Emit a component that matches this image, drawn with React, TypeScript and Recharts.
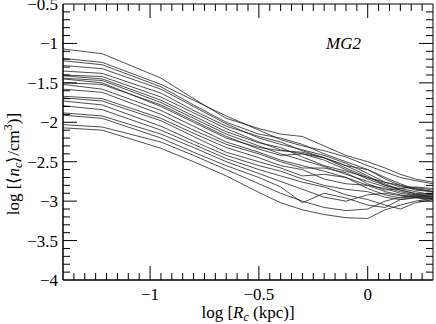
import React from 'react';
import { LineChart, Line, XAxis, YAxis, ReferenceArea, Label } from 'recharts';

// log R_c sample positions (kpc, log10)
const radiusLog = [-1.4, -1.22, -0.95, -0.8, -0.65, -0.5, -0.4, -0.3, -0.2, -0.1, 0, 0.08, 0.15, 0.22, 0.3];

// log <n_c>/cm^3 profiles, one per cloud
const profile01 = [-1.07, -1.13, -1.44, -1.70, -1.95, -2.08, -2.15, -2.18, -2.30, -2.42, -2.50, -2.58, -2.66, -2.72, -2.76];
const profile02 = [-1.19, -1.24, -1.52, -1.72, -1.92, -2.10, -2.22, -2.30, -2.36, -2.44, -2.55, -2.63, -2.70, -2.74, -2.78];
const profile03 = [-1.22, -1.27, -1.55, -1.78, -2.00, -2.15, -2.20, -2.28, -2.40, -2.50, -2.60, -2.72, -2.80, -2.83, -2.86];
const profile04 = [-1.28, -1.32, -1.58, -1.80, -2.02, -2.20, -2.28, -2.35, -2.42, -2.52, -2.65, -2.76, -2.82, -2.84, -2.88];
const profile05 = [-1.35, -1.38, -1.63, -1.85, -2.05, -2.18, -2.25, -2.36, -2.45, -2.55, -2.68, -2.80, -2.86, -2.90, -2.92];
const profile06 = [-1.40, -1.42, -1.68, -1.88, -2.08, -2.25, -2.35, -2.40, -2.45, -2.55, -2.60, -2.70, -2.78, -2.85, -2.88];
const profile07 = [-1.41, -1.45, -1.72, -1.92, -2.12, -2.26, -2.32, -2.44, -2.55, -2.62, -2.70, -2.78, -2.86, -2.91, -2.95];
const profile08 = [-1.44, -1.47, -1.75, -1.95, -2.15, -2.30, -2.40, -2.48, -2.56, -2.66, -2.75, -2.82, -2.88, -2.92, -2.94];
const profile09 = [-1.50, -1.52, -1.78, -1.98, -2.18, -2.34, -2.42, -2.40, -2.48, -2.60, -2.72, -2.80, -2.84, -2.88, -2.92];
const profile10 = [-1.52, -1.58, -1.85, -2.05, -2.25, -2.38, -2.48, -2.55, -2.62, -2.70, -2.80, -2.88, -2.92, -2.95, -2.97];
const profile11 = [-1.58, -1.62, -1.90, -2.10, -2.28, -2.40, -2.50, -2.58, -2.58, -2.64, -2.78, -2.86, -2.84, -2.82, -2.84];
const profile12 = [-1.67, -1.70, -1.95, -2.14, -2.32, -2.45, -2.55, -2.60, -2.72, -2.78, -2.80, -2.84, -2.90, -2.93, -2.95];
const profile13 = [-1.69, -1.73, -1.98, -2.18, -2.38, -2.50, -2.58, -2.68, -2.66, -2.70, -2.84, -2.92, -2.96, -2.94, -2.96];
const profile14 = [-1.73, -1.78, -2.05, -2.24, -2.42, -2.55, -2.62, -2.72, -2.80, -2.85, -2.88, -2.95, -2.98, -2.96, -2.98];
const profile15 = [-1.79, -1.84, -2.10, -2.28, -2.46, -2.60, -2.68, -2.76, -2.82, -2.92, -2.98, -3.05, -3.10, -3.02, -2.98];
const profile16 = [-1.88, -1.92, -2.15, -2.32, -2.50, -2.65, -2.75, -2.85, -2.95, -3.00, -2.92, -2.90, -2.93, -2.95, -2.97];
const profile17 = [-1.91, -1.95, -2.20, -2.38, -2.55, -2.70, -2.82, -3.02, -2.90, -2.96, -3.05, -3.08, -2.98, -2.95, -2.92];
const profile18 = [-2.03, -2.06, -2.25, -2.42, -2.60, -2.78, -2.90, -3.00, -3.08, -3.12, -3.10, -3.00, -2.95, -2.92, -2.90];
const profile19 = [-2.07, -2.10, -2.33, -2.50, -2.68, -2.89, -3.02, -3.11, -3.17, -3.21, -3.22, -3.11, -3.05, -3.00, -2.96];
const profile20 = [-1.45, -1.50, -1.80, -2.00, -2.20, -2.32, -2.36, -2.38, -2.45, -2.58, -2.70, -2.76, -2.80, -2.86, -2.88];

const profiles = [
  profile01, profile02, profile03, profile04, profile05, profile06, profile07, profile08, profile09, profile10,
  profile11, profile12, profile13, profile14, profile15, profile16, profile17, profile18, profile19, profile20,
];

const xDomain = [-1.4, 0.3];
const yDomain = [-4, -0.5];
const xMajorTicks = [-1, -0.5, 0];
const yMajorTicks = [-4, -3.5, -3, -2.5, -2, -1.5, -1, -0.5];
const xMinorStep = 0.05;
const yMinorStep = 0.1;
const panelLabel = 'MG2';

const round = (v: number) => Math.round(v * 1000) / 1000;
const makeTicks = (lo: number, hi: number, step: number) => {
  const out: number[] = [];
  const n = Math.round((hi - lo) / step);
  for (let i = 0; i <= n; i++) out.push(round(lo + i * step));
  return out;
};
const xTicks = makeTicks(xDomain[0], xDomain[1], xMinorStep);
const yTicks = makeTicks(yDomain[0], yDomain[1], yMinorStep);
const isMajor = (v: number, list: number[]) => list.some((m) => Math.abs(m - v) < 1e-6);

const rows = radiusLog.map((x, i) => {
  const row: Record<string, number> = { x };
  profiles.forEach((p, j) => {
    row['p' + j] = p[i];
  });
  return row;
});

const W = 436;
const H = 324;
const margin = { top: 4, right: 3, left: 8, bottom: 14 };
const yAxisWidth = 55;
const xAxisHeight = 30;
const plotW = W - margin.left - margin.right - yAxisWidth;
const plotH = H - margin.top - margin.bottom - xAxisHeight;
const FONT = "'Liberation Serif', 'Times New Roman', serif";
const fmt = (v: number) => (v < 0 ? '\u2212' + String(Math.abs(v)) : String(v));

const XTick = (props: any) => {
  const { x, y, payload } = props;
  const v = payload.value;
  const major = isMajor(v, xMajorTicks);
  const len = major ? 14 : 7;
  const inside = v > xDomain[0] + 1e-6 && v < xDomain[1] - 1e-6;
  return (
    <g>
      {inside && <line x1={x} y1={y} x2={x} y2={y - len} stroke="#000" strokeWidth={1} />}
      {inside && <line x1={x} y1={y - plotH} x2={x} y2={y - plotH + len} stroke="#000" strokeWidth={1} />}
      {major && (
        <text x={x} y={y + 20} textAnchor="middle" fontFamily={FONT} fontSize={17} fill="#000">
          {fmt(v)}
        </text>
      )}
    </g>
  );
};

const YTick = (props: any) => {
  const { x, y, payload } = props;
  const v = payload.value;
  const major = isMajor(v, yMajorTicks);
  const len = major ? 14 : 7;
  const inside = v > yDomain[0] + 1e-6 && v < yDomain[1] - 1e-6;
  return (
    <g>
      {inside && <line x1={x} y1={y} x2={x + len} y2={y} stroke="#000" strokeWidth={1} />}
      {inside && <line x1={x + plotW} y1={y} x2={x + plotW - len} y2={y} stroke="#000" strokeWidth={1} />}
      {major && (
        <text x={x - 5} y={y + 6} textAnchor="end" fontFamily={FONT} fontSize={17} fill="#000">
          {fmt(v)}
        </text>
      )}
    </g>
  );
};

const XTitle = (props: any) => {
  const vb = props.viewBox || { x: 63, y: 280, width: plotW, height: xAxisHeight };
  const cx = vb.x + vb.width / 2;
  return (
    <text x={cx} y={vb.y + 38} textAnchor="middle" fontFamily={FONT} fontSize={17} fill="#000">
      log [<tspan fontStyle="italic">R</tspan>
      <tspan fontStyle="italic" fontSize={12} dy={3}>c</tspan>
      <tspan dy={-3}> (kpc)]</tspan>
    </text>
  );
};

const YTitle = (props: any) => {
  const vb = props.viewBox || { x: 8, y: 4, width: yAxisWidth, height: plotH };
  const cx = 19;
  const cy = vb.y + vb.height / 2 + 22;
  return (
    <text
      x={cx}
      y={cy}
      transform={`rotate(-90 ${cx} ${cy})`}
      textAnchor="middle"
      fontFamily={FONT}
      fontSize={17}
      fill="#000"
    >
      log [⟨<tspan fontStyle="italic">n</tspan>
      <tspan fontStyle="italic" fontSize={12} dy={3}>c</tspan>
      <tspan dy={-3}>⟩/cm</tspan>
      <tspan fontSize={12} dy={-7}>3</tspan>
      <tspan dy={7}>)]</tspan>
    </text>
  );
};

const PanelTag = (props: any) => {
  const vb = props.viewBox || { x: 63, y: 4, width: plotW, height: plotH };
  return (
    <text x={vb.x + vb.width - 107} y={vb.y + 45} fontFamily={FONT} fontStyle="italic" fontSize={17} fill="#000">
      {panelLabel}
    </text>
  );
};

export default function App() {
  return (
    <div style={{ position: 'absolute', left: 0, top: 0, width: W, height: H, background: '#fff' }}>
      <LineChart width={W} height={H} data={rows} margin={margin}>
        <XAxis
          dataKey="x"
          type="number"
          domain={xDomain}
          ticks={xTicks}
          interval={0}
          allowDataOverflow
          tickLine={false}
          tickSize={0}
          tickMargin={0}
          height={xAxisHeight}
          axisLine={{ stroke: '#000' }}
          tick={<XTick />}
        >
          <Label content={<XTitle />} />
        </XAxis>
        <YAxis
          type="number"
          domain={yDomain}
          ticks={yTicks}
          interval={0}
          allowDataOverflow
          tickLine={false}
          tickSize={0}
          tickMargin={0}
          width={yAxisWidth}
          axisLine={{ stroke: '#000' }}
          tick={<YTick />}
        >
          <Label content={<YTitle />} />
        </YAxis>
        <ReferenceArea x1={xDomain[0]} x2={xDomain[1]} y1={yDomain[0]} y2={yDomain[1]} fill="none" stroke="#000" strokeWidth={1}>
          <Label content={<PanelTag />} />
        </ReferenceArea>
        {profiles.map((_, j) => (
          <Line
            key={j}
            dataKey={'p' + j}
            stroke="#222"
            strokeWidth={0.8}
            dot={false}
            isAnimationActive={false}
            type="linear"
          />
        ))}
      </LineChart>
    </div>
  );
}
